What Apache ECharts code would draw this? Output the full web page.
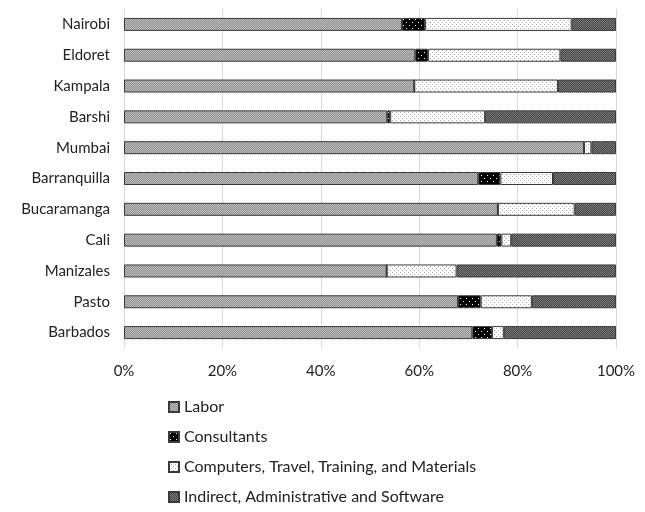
<!DOCTYPE html>
<html>
<head>
<meta charset="utf-8">
<script src="https://cdn.jsdelivr.net/npm/echarts@6/dist/echarts.min.js"></script>
<style>
  html, body { margin: 0; padding: 0; background: #fff; }
  #chart { width: 645px; height: 512px; }
</style>
</head>
<body>
<div id="chart"></div>
<script>
// cities, top to bottom
const cities = ['Nairobi', 'Eldoret', 'Kampala', 'Barshi', 'Mumbai', 'Barranquilla',
  'Bucaramanga', 'Cali', 'Manizales', 'Pasto', 'Barbados']

// share of cost, percent
const labor = [56.5, 59.2, 59.0, 53.5, 93.5, 72.0, 76.0, 75.8, 53.4, 67.9, 70.8]
const consultants = [4.7, 2.6, 0, 0.6, 0, 4.5, 0, 0.9, 0, 4.6, 4.0]
const computers = [29.8, 26.9, 29.2, 19.3, 1.5, 10.7, 15.6, 2.0, 14.2, 10.4, 2.4]
const indirect = [9.0, 11.3, 11.8, 26.6, 5.0, 12.8, 8.4, 21.3, 32.4, 17.1, 22.8]

const seriesNames = ['Labor', 'Consultants', 'Computers, Travel, Training, and Materials',
  'Indirect, Administrative and Software']
const xTicks = [0, 20, 40, 60, 80, 100]

// little pixel patterns to mimic the print hatching
function pattern(size, base, dot, cells) {
  const c = document.createElement('canvas')
  c.width = size
  c.height = size
  const ctx = c.getContext('2d')
  ctx.fillStyle = base
  ctx.fillRect(0, 0, size, size)
  ctx.fillStyle = dot
  cells.forEach(p => ctx.fillRect(p[0], p[1], 1, 1))
  return { image: c, repeat: 'repeat' }
}

const fills = [
  pattern(2, '#8f8f8f', '#bdbdbd', [[0, 0], [1, 1]]),
  pattern(6, '#000000', '#ffffff', [[1, 1], [4, 4]]),
  pattern(4, '#ffffff', '#a8a8a8', [[0, 0], [2, 2]]),
  pattern(2, '#454545', '#7c7c7c', [[0, 0], [1, 1]])
]

const values = [labor, consultants, computers, indirect]
const font = 'Lato, "Open Sans", sans-serif'

const chart = echarts.init(document.getElementById('chart'))
chart.setOption({
  animation: false,
  textStyle: { fontFamily: font },
  grid: { left: 124, right: 29, top: 9, height: 339 },
  legend: {
    orient: 'vertical',
    left: 163,
    top: 394,
    icon: 'rect',
    itemWidth: 10,
    itemHeight: 10,
    itemGap: 14,
    itemTextGap: 7,
    textStyle: { fontSize: 16, color: '#222', fontFamily: font },
    data: seriesNames
  },
  xAxis: {
    type: 'value',
    min: 0,
    max: 100,
    interval: 20,
    axisLine: { show: false },
    axisTick: { show: false },
    splitLine: { lineStyle: { color: '#d9d9d9' } },
    axisLabel: {
      fontSize: 15,
      color: '#222',
      margin: 16,
      formatter: v => (xTicks.includes(v) ? v + '%' : '')
    }
  },
  yAxis: {
    type: 'category',
    inverse: true,
    data: cities,
    axisLine: { show: false },
    axisTick: { show: false },
    axisLabel: { fontSize: 15, color: '#222', margin: 14 }
  },
  series: seriesNames.map((name, i) => ({
    name,
    type: 'bar',
    stack: 'cost',
    barWidth: 13,
    data: values[i],
    itemStyle: {
      color: fills[i],
      borderColor: '#3a3a3a',
      borderWidth: 1
    }
  }))
})
</script>
</body>
</html>
